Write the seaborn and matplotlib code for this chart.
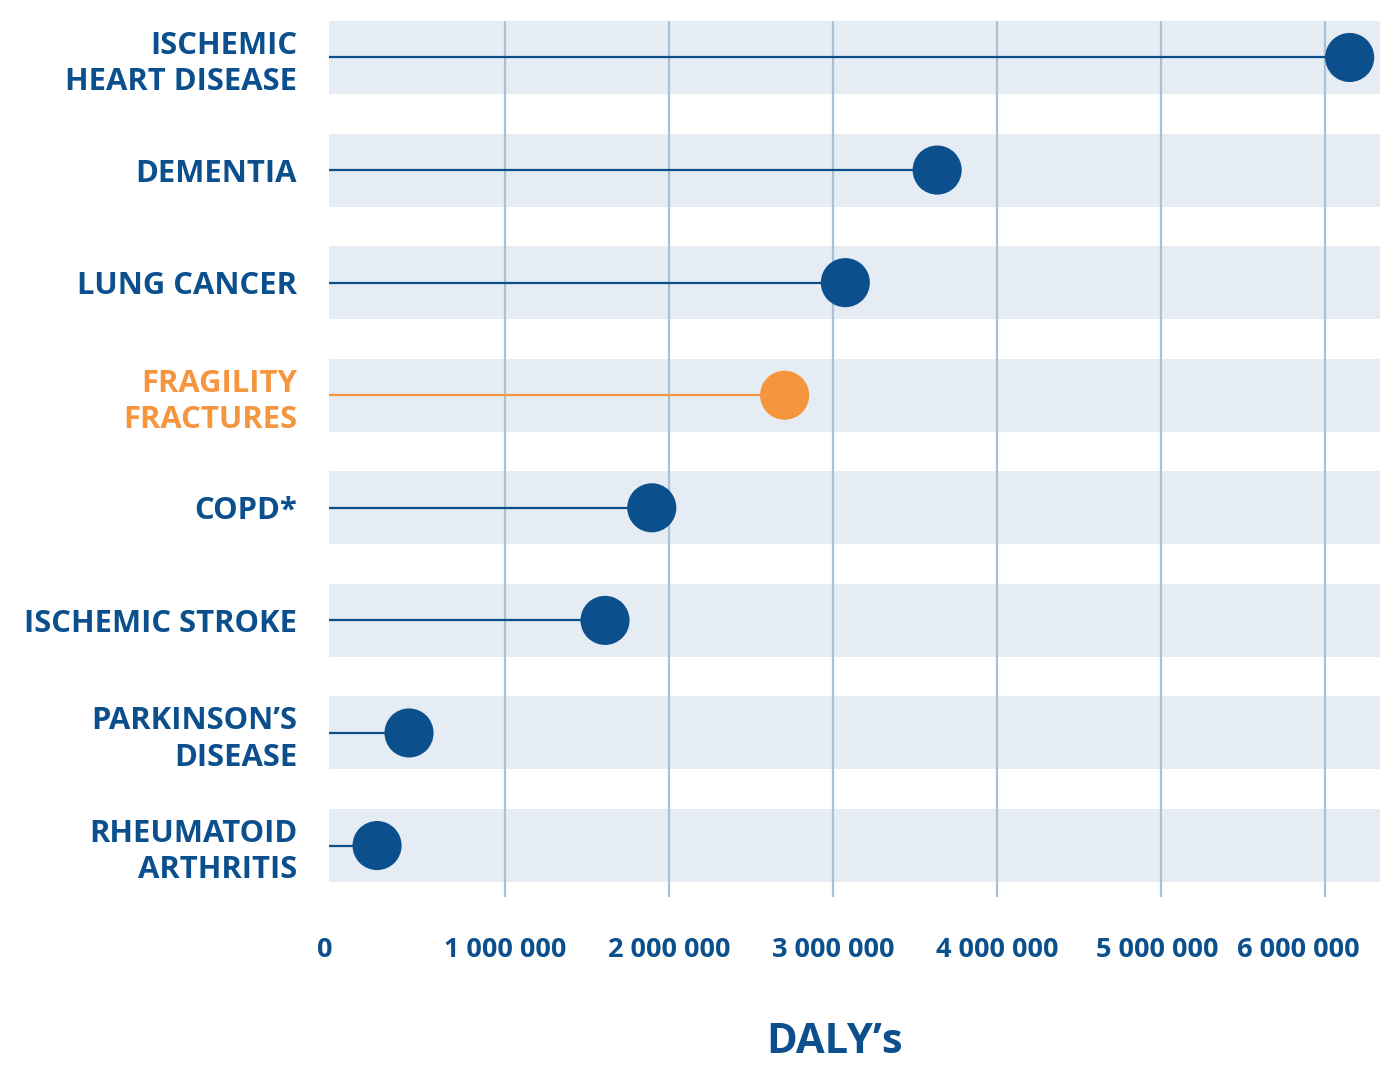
import pandas as pd
import matplotlib.pyplot as plt
import matplotlib.transforms as mtransforms
import seaborn as sns

# -------------------------------
# Data
# -------------------------------
diseases = [
    "ISCHEMIC\nHEART DISEASE",
    "DEMENTIA",
    "LUNG CANCER",
    "FRAGILITY\nFRACTURES",
    "COPD*",
    "ISCHEMIC STROKE",
    "PARKINSON\u2019S\nDISEASE",
    "RHEUMATOID\nARTHRITIS",
]
dalys = [6150000, 3635000, 3075000, 2705000, 1895000, 1610000, 415000, 220000]
highlight = [False, False, False, True, False, False, False, False]

x_ticks = [0, 1000000, 2000000, 3000000, 4000000, 5000000, 6000000]
x_tick_labels = ["0", "1 000 000", "2 000 000", "3 000 000",
                 "4 000 000", "5 000 000", "6 000 000"]

df = pd.DataFrame({"disease": diseases, "dalys": dalys, "highlight": highlight})

# -------------------------------
# Style
# -------------------------------
NAVY = "#0b4f8c"
ORANGE = "#f5953e"
BAND = "#e5ecf3"
GRID = "#a9c0d7"

sns.set_style("white")
plt.rcParams["font.family"] = ["Open Sans", "DejaVu Sans"]
plt.rcParams["font.weight"] = "bold"

W, H = 1395, 1072
fig = plt.figure(figsize=(W / 100, H / 100), dpi=100)
ax = fig.add_axes([329 / W, (H - 897) / H, (1380 - 329) / W, (897 - 21) / H])

xmin, xmax = -73000, 6335000
ax.set_xlim(xmin, xmax)

# background bands
for i in range(len(diseases)):
    ax.axhspan(i - 0.324, i + 0.324, color=BAND, lw=0, zorder=0)

# vertical gridlines (no line at 0)
for t in x_ticks[1:]:
    ax.axvline(t, color=GRID, lw=1.6, zorder=1)

colors = [ORANGE if h else NAVY for h in df["highlight"]]

# stems
for i, (v, c) in enumerate(zip(df["dalys"], colors)):
    ax.hlines(i, xmin, v, color=c, lw=1.6, zorder=2)

# dots
sns.scatterplot(data=df, x="dalys", y="disease", hue="highlight",
                palette={False: NAVY, True: ORANGE}, s=1250,
                linewidth=0, legend=False, zorder=3, ax=ax)

ax.set_ylim(7.457, -0.324)
ax.set_xlim(xmin, xmax)

# axes text
ax.set_xticks(x_ticks)
ax.set_xticklabels(x_tick_labels, fontsize=19.5, fontweight="bold", color=NAVY)
ax.tick_params(axis="x", length=0, pad=29)
ax.tick_params(axis="y", length=0, pad=23)
ax.set_yticks(range(len(diseases)))
ax.set_yticklabels(diseases, fontsize=22.3, fontweight="bold",
                   linespacing=1.27, ha="right")
for lbl, c in zip(ax.get_yticklabels(), colors):
    lbl.set_color(c)

# nudge the outer tick labels the way the original lays them out
xlbls = ax.get_xticklabels()
for idx, dx in [(0, -16), (5, -4), (6, -27)]:
    xlbls[idx].set_transform(xlbls[idx].get_transform() +
                             mtransforms.ScaledTranslation(dx / 100, 0, fig.dpi_scale_trans))

ax.set_ylabel("")
ax.set_xlabel("DALY\u2019s", fontsize=30, fontweight="bold", color=NAVY)
ax.xaxis.set_label_coords((835 - 329) / (1380 - 329), (897 - 1022) / (897 - 21))

sns.despine(ax=ax, left=True, bottom=True)

fig.savefig("out.png", dpi=100)
